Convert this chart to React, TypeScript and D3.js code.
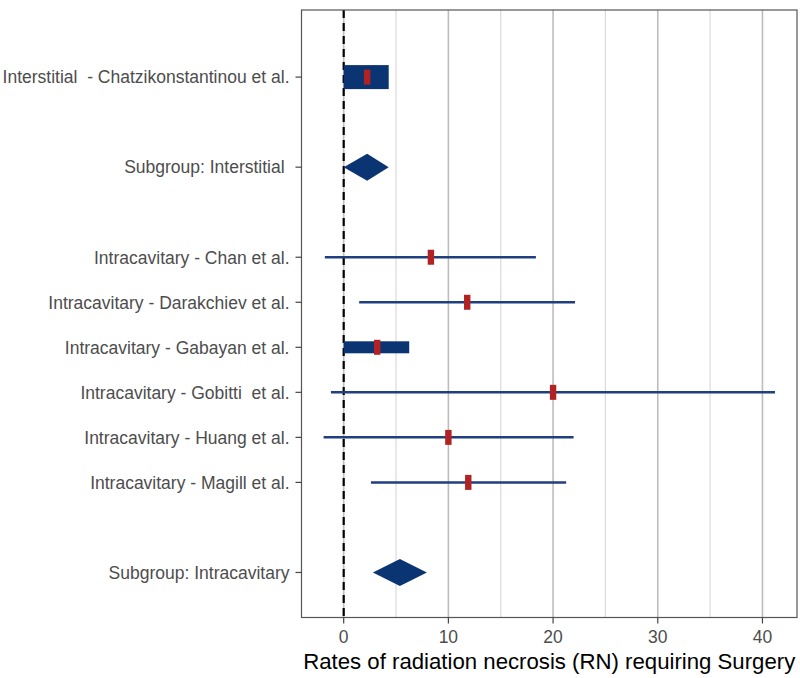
import React from "react";
import * as d3 from "d3";

const labels = [
  "Interstitial  - Chatzikonstantinou et al.",
  "Subgroup: Interstitial ",
  "Intracavitary - Chan et al.",
  "Intracavitary - Darakchiev et al.",
  "Intracavitary - Gabayan et al.",
  "Intracavitary - Gobitti  et al.",
  "Intracavitary - Huang et al.",
  "Intracavitary - Magill et al.",
  "Subgroup: Intracavitary",
];
const rowPos = [13, 11, 9, 8, 7, 6, 5, 4, 2];
const kinds = ["study", "subgroup", "study", "study", "study", "study", "study", "study", "subgroup"];
const estimates = [2.24, 2.24, 8.33, 11.8, 3.2, 20.0, 10.0, 11.9, 5.37];
const lower = [0, 0, -1.8, 1.48, 0, -1.22, -1.92, 2.6, 2.79];
const upper = [4.3, 4.3, 18.36, 22.1, 6.26, 41.2, 21.96, 21.25, 7.95];
const weights = [24, 0, 2.5, 2.5, 12, 2.5, 2.5, 2.5, 0];
const xTicks = [0, 10, 20, 30, 40];
const xMinor = [5, 15, 25, 35];
const xTitle = "Rates of radiation necrosis (RN) requiring Surgery";

const W = 800;
const H = 678;
const left = 301.5;
const right = 797;
const top = 10;
const bottom = 617.5;

export default function App() {
  const x = d3.scaleLinear().domain([-4.03, 43.3]).range([left, right]);
  const y = d3.scaleLinear().domain([1, 14.49]).range([bottom, top]);
  const font = "'Liberation Sans', Arial, Helvetica, sans-serif";
  const navy = "#0b3572";
  const red = "#b22222";

  return (
    <svg
      width={W}
      height={H}
      style={{ position: "absolute", left: 0, top: 0, background: "#fff" }}
      fontFamily={font}
    >
      <rect x={left} y={top} width={right - left} height={bottom - top} fill="#fff" />
      {xMinor.map((t) => (
        <line key={"mi" + t} x1={x(t)} x2={x(t)} y1={top} y2={bottom} stroke="#dadada" strokeWidth={1.2} />
      ))}
      {xTicks.map((t) => (
        <line key={"ma" + t} x1={x(t)} x2={x(t)} y1={top} y2={bottom} stroke="#bdbdbd" strokeWidth={1.6} />
      ))}
      <line x1={x(0)} x2={x(0)} y1={top} y2={bottom} stroke="#000" strokeWidth={2.2} strokeDasharray="8,5" />
      {labels.map((lab, i) => {
        const cy = y(rowPos[i]);
        if (kinds[i] === "subgroup") {
          const h = 13.5;
          const pts = [
            [x(lower[i]), cy],
            [x(estimates[i]), cy - h],
            [x(upper[i]), cy],
            [x(estimates[i]), cy + h],
          ];
          return <polygon key={lab} points={pts.map((p) => p.join(",")).join(" ")} fill={navy} />;
        }
        const w = weights[i];
        return (
          <g key={lab}>
            {w > 4 ? (
              <rect x={x(lower[i])} y={cy - w / 2} width={x(upper[i]) - x(lower[i])} height={w} fill={navy} />
            ) : (
              <line x1={x(lower[i])} x2={x(upper[i])} y1={cy} y2={cy} stroke="#1f3f80" strokeWidth={w} />
            )}
            <rect x={x(estimates[i]) - 3.2} y={cy - 7.5} width={6.4} height={15} fill={red} />
          </g>
        );
      })}
      <rect x={left} y={top} width={right - left} height={bottom - top} fill="none" stroke="#555" strokeWidth={1.2} />
      {labels.map((lab, i) => {
        const cy = y(rowPos[i]);
        return (
          <g key={"yl" + i}>
            <line x1={left - 6} x2={left} y1={cy} y2={cy} stroke="#444" strokeWidth={1.2} />
            <text
              x={left - 12}
              y={cy}
              dy="0.36em"
              textAnchor="end"
              fontSize={17.5}
              fill="#4d4d4d"
              style={{ whiteSpace: "pre" }}
            >
              {lab}
            </text>
          </g>
        );
      })}
      {xTicks.map((t) => (
        <g key={"xt" + t}>
          <line x1={x(t)} x2={x(t)} y1={bottom} y2={bottom + 6} stroke="#444" strokeWidth={1.2} />
          <text x={x(t)} y={bottom + 19} dy="0.36em" textAnchor="middle" fontSize={17.5} fill="#4d4d4d">
            {t}
          </text>
        </g>
      ))}
      <text x={(left + right) / 2} y={669} textAnchor="middle" fontSize={22.2} fill="#000">
        {xTitle}
      </text>
    </svg>
  );
}
